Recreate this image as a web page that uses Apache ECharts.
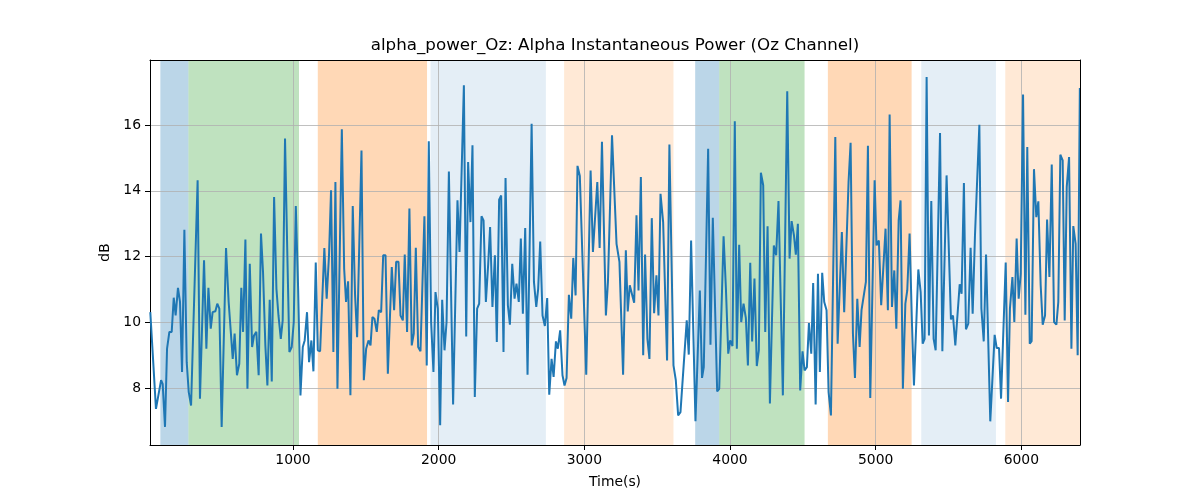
<!DOCTYPE html>
<html>
<head>
<meta charset="utf-8">
<title>alpha_power_Oz</title>
<script src="https://cdn.jsdelivr.net/npm/echarts@6/dist/echarts.min.js"></script>
<style>
  html, body { margin: 0; padding: 0; background: #fff; }
  #chart { width: 1200px; height: 500px; }
</style>
</head>
<body>
<div id="chart"></div>
<script>
// time (s) of each sample
const times = [
  20, 59, 94, 105, 121, 135, 151, 167, 181, 194, 210, 224, 238, 254, 270, 284, 300, 345, 361, 389,
  405, 419, 435, 448, 467, 480, 494, 510, 540, 558, 586, 599, 615, 631, 645,
  657, 673, 687, 703, 719, 732, 748, 764, 780, 794, 810, 824, 840, 854, 870, 886, 900, 916, 929,
  945, 961, 975, 991, 1005, 1019, 1035, 1051, 1067, 1080, 1096, 1110, 1126, 1140, 1156, 1170,
  1186, 1215, 1231, 1247, 1261, 1277, 1291,
  1305, 1335, 1351, 1364, 1378, 1394, 1410, 1426, 1440, 1470, 1486, 1502, 1518, 1532, 1545, 1559,
  1575, 1589, 1605, 1619, 1635, 1651, 1678, 1694, 1708, 1724, 1738, 1754, 1767, 1783, 1799, 1815,
  1829, 1843, 1859, 1875, 1902, 1918,
  1932, 1948, 1964, 1978, 1994, 2010, 2024, 2040, 2054, 2070, 2099, 2129, 2143, 2173, 2189, 2202,
  2218, 2232, 2248, 2264, 2278, 2294, 2308, 2324, 2340, 2353, 2369, 2386, 2399, 2415, 2429, 2445,
  2459, 2475, 2489, 2505, 2521, 2534, 2550,
  2564, 2578, 2594, 2610, 2638, 2654, 2670, 2683, 2697, 2713, 2729, 2745, 2759, 2775, 2789, 2805,
  2818, 2834, 2850, 2864, 2878, 2894, 2910, 2924, 2940, 2953, 2969, 3013, 3043, 3059, 3089, 3105,
  3121, 3148, 3162, 3190,
  3221, 3241, 3266, 3285, 3298, 3312, 3328, 3342, 3358, 3372, 3388, 3404, 3417, 3433, 3447, 3463,
  3479, 3495, 3509, 3523, 3541, 3568, 3584, 3612, 3628, 3644, 3660, 3703, 3717, 3733, 3763, 3793, 3808,
  3820, 3850, 3866, 3882, 3912, 3926, 3956, 3972, 3988, 4001, 4017, 4033, 4047, 4063, 4077, 4093,
  4109, 4123, 4139, 4152, 4168, 4184, 4198, 4212, 4228, 4242, 4258, 4274, 4301, 4317, 4333, 4363,
  4393, 4409, 4423,
  4439, 4452, 4466, 4482, 4498, 4512, 4528, 4542, 4558, 4571, 4588, 4604, 4617, 4633, 4647, 4663,
  4677, 4693, 4723, 4739, 4768, 4784, 4814, 4828, 4844, 4858, 4874, 4890, 4903, 4933, 4947, 4963,
  4993, 5006, 5022, 5038, 5068, 5084,
  5096, 5112, 5128, 5142, 5158, 5171, 5187, 5204, 5217, 5233, 5249, 5263, 5293, 5309, 5323, 5336,
  5350, 5366, 5382, 5398, 5412, 5442, 5458, 5487, 5517, 5531, 5547, 5577, 5590, 5606, 5620, 5636,
  5652, 5666, 5682, 5712,
  5726, 5742, 5758, 5787, 5817, 5831, 5847, 5861, 5893, 5909, 5922, 5939, 5952, 5968, 5982, 5996,
  6012, 6028, 6041, 6058, 6071, 6087, 6103, 6117, 6133, 6147, 6163, 6177, 6193, 6209, 6225, 6241,
  6254, 6268, 6284, 6298, 6312, 6328, 6344, 6357, 6373, 6387, 6402
];

// alpha power (dB) at each time
const power = [
  10.31, 7.37, 8.24, 8.13, 6.82, 9.2, 9.71, 9.71, 10.75, 10.21, 11.05, 10.62, 8.49, 12.82, 8.79, 7.88, 7.47, 14.32, 7.68, 11.89,
  9.2, 11.05, 9.81, 10.31, 10.34, 10.57, 10.42, 6.82, 12.26, 10.62, 8.89, 9.66, 8.39, 8.74, 11.05,
  9.71, 12.52, 7.98, 11.78, 9.25, 9.6, 9.71, 8.39, 12.7, 11.53, 9.3, 8.08, 10.69, 8.2, 13.81, 11.02, 10.21, 9.5, 10.06,
  15.59, 12.04, 9.1, 9.25, 10.01, 13.54, 11.02, 7.78, 9.25, 9.45, 10.31, 8.79, 9.45, 8.51, 11.82, 9.15,
  9.12, 12.26, 10.72, 12.04, 14.02, 9.1, 14.27,
  7.98, 15.87, 11.63, 10.62, 11.25, 7.78, 13.54, 10.82, 9.55, 15.23, 8.24, 9.2, 9.45, 9.3, 10.16, 10.11,
  9.71, 10.37, 10.31, 12.04, 12.04, 8.44, 11.68, 10.37, 11.84, 11.84, 10.21, 10.06, 12.06, 9.71, 13.46, 9.3,
  9.66, 12.27, 9.25, 9.12, 13.23, 8.69,
  15.51, 10.01, 8.49, 10.92, 10.42, 6.87, 10.69, 9.15, 10.01, 14.59, 7.5, 13.71, 12.14, 17.21, 9.57, 14.88,
  13.05, 15.39, 7.73, 10.42, 10.57, 13.23, 13.1, 10.62, 11.78, 12.9, 10.47, 12.04, 9.4, 13.73, 13.86, 9.1,
  14.39, 10.52, 9.93, 11.78, 10.72, 11.18, 10.62,
  12.55, 10.26, 12.87, 8.41, 16.04, 11.23, 10.47, 11.02, 12.46, 10.21, 9.89, 10.74, 7.8, 8.89, 8.34, 9.42,
  9.2, 9.76, 8.39, 8.08, 8.31, 10.84, 10.11, 11.96, 10.82, 14.76, 14.45, 8.41, 14.62, 12.14, 14.27, 12.26,
  15.49, 10.21, 11.23, 15.69,
  12.39, 11.84, 8.41, 12.19, 10.33, 11.13, 10.84, 10.6, 13.26, 10.97, 14.42, 9.0, 12.06, 9.5, 8.89, 13.17,
  10.28, 11.43, 10.21, 13.91, 13.05, 8.84, 15.41, 8.69, 8.24, 7.17, 7.27, 10.06, 9.02, 12.49, 6.99, 10.97, 8.31,
  8.64, 15.28, 9.32, 13.18, 7.9, 7.98, 12.62, 11.02, 9.05, 9.45, 9.28, 16.12, 9.2, 12.36, 10.01, 10.57,
  10.13, 8.69, 11.81, 9.42, 11.33, 8.67, 9.15, 14.55, 14.17, 9.71, 12.92, 7.53, 12.34, 12.04, 13.69, 7.78,
  17.03, 11.94, 13.08,
  12.65, 12.06, 13.0, 7.93, 9.12, 8.54, 8.64, 9.98, 9.05, 11.2, 7.5, 11.48, 8.49, 11.51, 10.62, 10.37,
  7.88, 7.17, 15.64, 9.35, 12.75, 10.31, 14.27, 15.46, 9.66, 8.31, 10.72, 9.25, 10.37, 11.23, 15.37, 7.7,
  14.32, 12.34, 12.49, 10.52, 12.85, 10.37,
  16.32, 10.47, 11.58, 9.81, 13.1, 13.71, 7.98, 10.57, 10.97, 12.7, 10.01, 8.08, 11.61, 10.92, 9.35, 9.5,
  17.46, 9.6, 13.69, 9.5, 9.15, 15.76, 9.12, 14.47, 10.09, 10.21, 9.3, 11.16, 10.87, 14.24, 9.79, 9.96,
  12.27, 10.26, 12.65, 16.01,
  10.42, 9.42, 12.06, 6.99, 9.62, 9.22, 9.22, 7.68, 11.82, 7.58, 10.42, 11.38, 10.01, 12.55, 10.72, 11.48,
  16.93, 10.23, 15.33, 9.35, 9.43, 14.66, 13.2, 13.68, 11.13, 9.93, 10.21, 13.13, 11.38, 14.8, 10.01, 9.93,
  10.62, 15.1, 14.93, 10.06, 14.12, 15.03, 9.2, 12.93, 12.39, 9.0, 17.13
];

// shaded segments (s)
const spanStart = [89, 282, 1170, 1944, 2861, 3761, 3926, 4672, 5313, 5890];
const spanEnd   = [282, 1041, 1920, 2736, 3612, 3926, 4512, 5247, 5826, 6410];
const spanKind  = ['blue', 'green', 'orange', 'lightblue', 'lightorange',
                   'blue', 'green', 'orange', 'lightblue', 'lightorange'];

const xTicks = [1000, 2000, 3000, 4000, 5000, 6000];
const yTicks = [8, 10, 12, 14, 16];

const shadeColors = {
  blue: 'rgba(31,119,180,0.3)',
  green: 'rgba(44,160,44,0.3)',
  orange: 'rgba(255,127,14,0.3)',
  lightblue: 'rgba(31,119,180,0.12)',
  lightorange: 'rgba(255,127,14,0.17)'
};

const FONT = 'DejaVu Sans';

const chart = echarts.init(document.getElementById('chart'), null, { renderer: 'canvas' });

const option = {
  animation: false,
  backgroundColor: '#fff',
  graphic: [{
    type: 'text',
    x: 615,
    y: 46,
    style: {
      text: 'alpha_power_Oz: Alpha Instantaneous Power (Oz Channel)',
      font: '16.7px "DejaVu Sans"',
      fill: '#000',
      textAlign: 'center',
      textVerticalAlign: 'middle'
    }
  }],
  grid: { left: 150, right: 120, top: 60, bottom: 55 },
  xAxis: [
    {
      type: 'value',
      min: 18,
      max: 6403,
      z: 2,
      name: 'Time(s)',
      nameLocation: 'middle',
      nameGap: 30,
      nameTextStyle: { fontFamily: FONT, fontSize: 13.9, color: '#000' },
      axisLine: { onZero: false, lineStyle: { color: '#000', width: 1 } },
      axisTick: { customValues: xTicks, length: 5, lineStyle: { color: '#000' } },
      axisLabel: {
        customValues: xTicks,
        margin: 8,
        fontFamily: FONT, fontSize: 13.9, color: '#000',
        formatter: v => String(v)
      },
      splitLine: { show: true, lineStyle: { color: '#b0b0b0', width: 0.8 } }
    },
    {
      type: 'value', position: 'top', min: 18, max: 6403, z: 4,
      axisLine: { show: true, onZero: false, lineStyle: { color: '#000', width: 1 } },
      axisTick: { show: false }, axisLabel: { show: false }, splitLine: { show: false }
    }
  ],
  yAxis: [
    {
      type: 'value',
      min: 6.27,
      max: 17.98,
      z: 2,
      name: 'dB',
      nameLocation: 'middle',
      nameGap: 29,
      nameTextStyle: { fontFamily: FONT, fontSize: 13.9, color: '#000' },
      axisLine: { show: true, onZero: false, lineStyle: { color: '#000', width: 1 } },
      axisTick: { show: true, customValues: yTicks, length: 5, lineStyle: { color: '#000' } },
      axisLabel: {
        customValues: yTicks,
        margin: 9,
        fontFamily: FONT, fontSize: 13.9, color: '#000'
      },
      splitLine: { show: true, lineStyle: { color: '#b0b0b0', width: 0.8 } }
    },
    {
      type: 'value', position: 'right', min: 6.27, max: 17.98, z: 4,
      axisLine: { show: true, onZero: false, lineStyle: { color: '#000', width: 1 } },
      axisTick: { show: false }, axisLabel: { show: false }, splitLine: { show: false }
    }
  ],
  series: [
    {
      name: 'spans',
      type: 'line',
      data: [],
      z: 0,
      markArea: {
        silent: true,
        z: 0,
        data: spanStart.map((s, i) => [
          { xAxis: s, itemStyle: { color: shadeColors[spanKind[i]] } },
          { xAxis: spanEnd[i] }
        ])
      }
    },
    {
      name: 'alpha_power_Oz',
      type: 'line',
      z: 3,
      data: times.map((t, i) => [t, power[i]]),
      showSymbol: false,
      symbol: 'none',
      clip: true,
      lineStyle: { color: '#1f77b4', width: 2 }
    }
  ]
};

chart.setOption(option);
</script>
</body>
</html>
